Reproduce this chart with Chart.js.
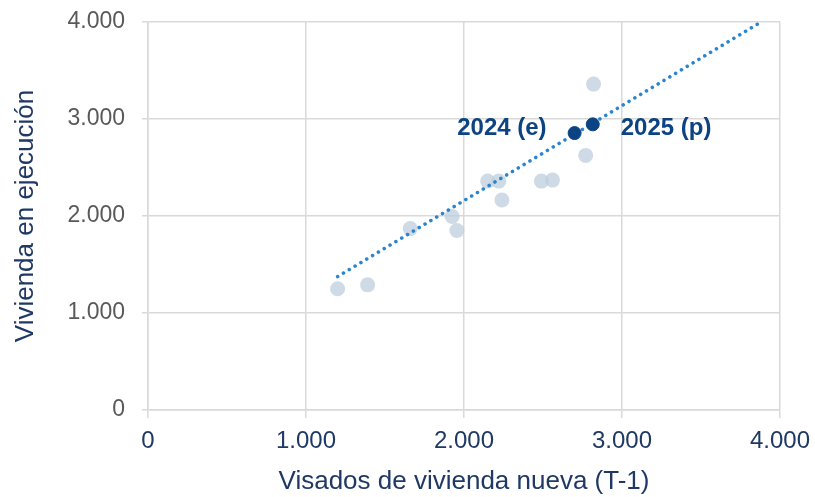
<!DOCTYPE html>
<html lang="es">
<head>
  <meta charset="UTF-8" />
  <title>Vivienda en ejecución vs visados</title>
  <script src="https://cdn.jsdelivr.net/npm/chart.js"></script>
  <style>
    body { margin: 0; background: #fff; }
    #wrap { width: 815px; height: 497px; }
  </style>
</head>
<body>
  <div id="wrap"><canvas id="chart" width="815" height="497"></canvas></div>
  <script>
    // historical points (visados T-1, vivienda en ejecucion)
    const histX = [1200, 1390, 1660, 1925, 1955, 2150, 2220, 2240, 2490, 2560, 2770, 2820];
    const histY = [1250, 1290, 1870, 1995, 1850, 2360, 2360, 2165, 2360, 2370, 2625, 3360];
    // estimated / projected
    const keyLabels = ['2024 (e)', '2025 (p)'];
    const keyX = [2700, 2815];
    const keyY = [2855, 2945];
    // trend line ends
    const trendX = [1200, 3880];
    const trendY = [1375, 4000];
    const axisTicks = [0, 1000, 2000, 3000, 4000];

    function fmt(v) {
      return String(v).replace(/\B(?=(\d{3})+(?!\d))/g, '.');
    }

    const navy = '#1f3864';
    const font = 'Arial, "Liberation Sans", sans-serif';

    const labelPlugin = {
      id: 'keyLabels',
      afterDatasetsDraw(chart) {
        const { ctx, scales: { x, y } } = chart;
        ctx.save();
        ctx.font = 'bold 24px ' + font;
        ctx.fillStyle = '#0b4383';
        ctx.textBaseline = 'middle';
        ctx.textAlign = 'right';
        ctx.fillText(keyLabels[0], x.getPixelForValue(keyX[0]) - 28, y.getPixelForValue(keyY[1]) + 4);
        ctx.textAlign = 'left';
        ctx.fillText(keyLabels[1], x.getPixelForValue(keyX[1]) + 28, y.getPixelForValue(keyY[1]) + 4);
        ctx.restore();
      }
    };

    new Chart(document.getElementById('chart'), {
      type: 'scatter',
      data: {
        datasets: [
          {
            label: 'Tendencia',
            type: 'line',
            data: trendX.map((v, i) => ({ x: v, y: trendY[i] })),
            borderColor: '#2b84cf',
            borderWidth: 3.5,
            borderDash: [0.1, 6.7],
            borderCapStyle: 'round',
            pointRadius: 0,
            fill: false,
            order: 1
          },
          {
            label: 'Histórico',
            data: histX.map((v, i) => ({ x: v, y: histY[i] })),
            backgroundColor: 'rgba(190,206,222,0.75)',
            borderWidth: 0,
            pointRadius: 7.5,
            order: 2
          },
          {
            label: 'Previsión',
            data: keyX.map((v, i) => ({ x: v, y: keyY[i] })),
            backgroundColor: '#0b4383',
            borderColor: '#0b4383',
            borderWidth: 1,
            pointRadius: 6.5,
            order: 0
          }
        ]
      },
      options: {
        responsive: false,
        animation: false,
        layout: { padding: { top: 22, right: 35, left: 0, bottom: 0 } },
        plugins: { legend: { display: false }, tooltip: { enabled: false } },
        scales: {
          x: {
            type: 'linear',
            min: 0, max: 4000,
            afterBuildTicks: s => { s.ticks = axisTicks.map(v => ({ value: v })); },
            afterFit: s => { s.height = 87; s.paddingLeft = 0; s.paddingRight = 0; },
            grid: { color: '#d9d9d9', lineWidth: 1.5, tickLength: 8 },
            border: { color: '#d9d9d9', width: 1.5 },
            ticks: { color: navy, font: { size: 24, family: font }, padding: 9, callback: v => fmt(v) },
            title: { display: true, text: 'Visados de vivienda nueva (T-1)', color: navy, font: { size: 26, family: font }, padding: { top: 0, bottom: 0 } }
          },
          y: {
            min: 0, max: 4000,
            afterBuildTicks: s => { s.ticks = axisTicks.map(v => ({ value: v })); },
            afterFit: s => { s.width = 148; s.paddingTop = 0; s.paddingBottom = 0; },
            grid: { color: '#d9d9d9', lineWidth: 1.5, tickLength: 6 },
            border: { color: '#d9d9d9', width: 1.5 },
            ticks: { color: '#595959', font: { size: 23, family: font }, padding: 17, callback: v => fmt(v) },
            title: { display: true, text: 'Vivienda en ejecución', color: navy, font: { size: 26, family: font }, padding: { top: 10, bottom: 0 } }
          }
        }
      },
      plugins: [labelPlugin]
    });
  </script>
</body>
</html>
